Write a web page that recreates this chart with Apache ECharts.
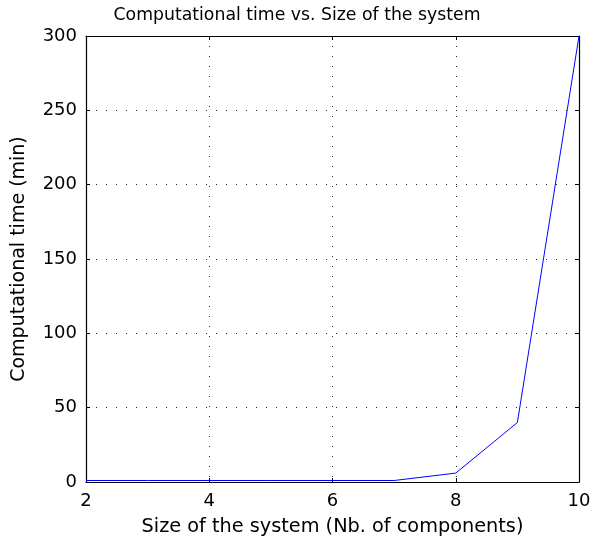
<!DOCTYPE html>
<html>
<head>
<meta charset="utf-8">
<script src="https://cdn.jsdelivr.net/npm/echarts@6/dist/echarts.min.js"></script>
<style>html,body{margin:0;padding:0;background:#fff;}#c{width:594px;height:548px;}</style>
</head>
<body>
<div id="c"></div>
<script>
var sizes = [2, 3, 4, 5, 6, 7, 8, 9, 10];
var times = [1, 1, 1, 1, 1, 1, 6, 40, 300];
var xTicks = [2, 4, 6, 8, 10];
var yTicks = [0, 50, 100, 150, 200, 250, 300];

var chart = echarts.init(document.getElementById('c'));
var font = 'DejaVu Sans';
var frame = {show: true, onZero: false, lineStyle: {color: '#000', width: 1.2}};
var tick = {show: true, inside: true, length: 4, lineStyle: {color: '#000', width: 1}};
var grid = {show: true, lineStyle: {color: '#222', type: [1, 9], width: 1}};
chart.setOption({
  animation: false,
  title: {
    text: 'Computational time vs. Size of the system',
    left: 'center', top: 2,
    textStyle: {fontFamily: font, fontSize: 17.3, fontWeight: 'normal', color: '#000'}
  },
  grid: {left: 86, right: 15, top: 36, bottom: 66},
  xAxis: [{
    type: 'value', min: 2, max: 10, interval: 2,
    name: 'Size of the system (Nb. of components)',
    nameLocation: 'middle', nameGap: 35,
    nameTextStyle: {fontFamily: font, fontSize: 19.3, color: '#000'},
    axisLine: frame, axisTick: tick, splitLine: grid,
    axisLabel: {fontFamily: font, fontSize: 18, color: '#000', margin: 10}
  }, {
    type: 'value', position: 'top', min: 2, max: 10, interval: 2,
    axisLine: frame, axisTick: tick, splitLine: {show: false}, axisLabel: {show: false}
  }],
  yAxis: [{
    type: 'value', min: 0, max: 300, interval: 50,
    name: 'Computational time (min)',
    nameLocation: 'middle', nameGap: 57,
    nameTextStyle: {fontFamily: font, fontSize: 19, color: '#000'},
    axisLine: frame, axisTick: tick, splitLine: grid,
    axisLabel: {fontFamily: font, fontSize: 18, color: '#000', margin: 9}
  }, {
    type: 'value', position: 'right', min: 0, max: 300, interval: 50,
    axisLine: frame, axisTick: tick, splitLine: {show: false}, axisLabel: {show: false}
  }],
  series: [{
    type: 'line',
    data: sizes.map(function (s, i) { return [s, times[i]]; }),
    showSymbol: false,
    lineStyle: {color: '#0000ff', width: 1},
    itemStyle: {color: '#0000ff'}
  }]
});
</script>
</body>
</html>
